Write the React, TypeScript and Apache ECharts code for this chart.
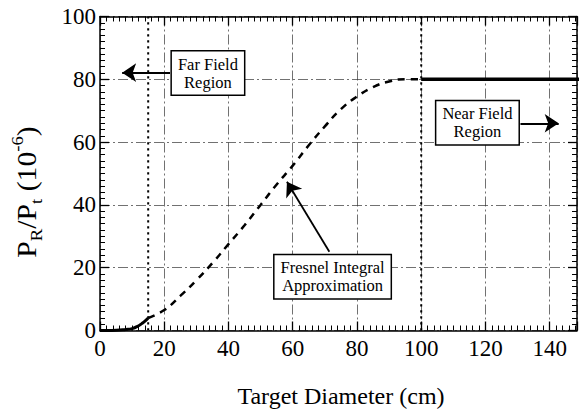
import React, { useEffect, useRef } from "react";
import * as echarts from "echarts";

const FONT = "Liberation Serif";

// Far-field computed curve (solid)
const farX = [0, 3, 5, 8, 10, 12, 13, 14, 15];
const farY = [0, 0.02, 0.05, 0.3, 0.6, 1.5, 2.2, 3.0, 4.0];

// Fresnel integral approximation (dashed)
const fresnelX = [15, 20, 25, 30, 35, 40, 45, 50, 55, 60, 65, 70, 75, 80, 85, 90, 95, 100];
const fresnelY = [4, 6.5, 11, 16, 21.5, 27.5, 33.5, 40, 46.5, 52.5, 59, 65, 70.5, 74.5, 77.5, 79.3, 80, 80];

// Near-field constant (thick solid)
const nearX = [100, 150];
const nearY = [80, 80];

// Region boundaries (dotted verticals)
const boundaryX = [15, 100];
const boundaryY = [0, 100];

const xTicks = [0, 20, 40, 60, 80, 100, 120, 140];
const yTicks = [0, 20, 40, 60, 80, 100];
const X_MAX = 148.5;

// Annotation anchors in data coordinates
const farBox = { text: "Far Field\nRegion", x: 33.6, y: 82 };
const nearBox = { text: "Near Field\nRegion", x: 117.5, y: 66.2 };
const fresnelBox = { text: "Fresnel Integral\nApproximation", x: 72.4, y: 17.1 };
const arrows = [
  [[21.8, 82.1], [6.9, 82.1]],
  [[130.9, 66], [142.8, 66]],
  [[71.4, 25.1], [58.2, 47.4]],
];

const zip = (xs: number[], ys: number[]) => xs.map((x, i) => [x, ys[i]]);

function makeAxis(kind: "x" | "y", position: string, primary: boolean): any {
  return {
    type: "value",
    position,
    min: 0,
    max: kind === "x" ? X_MAX : 100,
    interval: 20,
    axisLine: { show: true, onZero: false, lineStyle: { color: "#000", width: 1.5 } },
    axisTick: { show: true, inside: true, length: 9, lineStyle: { color: "#000", width: 1.3 } },
    minorTick: { show: true, splitNumber: 10, length: 5, lineStyle: { color: "#000", width: 1 } },
    splitLine: primary
      ? { show: true, lineStyle: { color: "#333", width: 0.7, type: [10, 3, 2, 3] } }
      : { show: false },
    axisLabel: primary
      ? {
          show: true,
          fontFamily: FONT,
          fontSize: 23,
          color: "#000",
          margin: kind === "x" ? 6 : 4,
          showMaxLabel: kind === "y",
          formatter: (v: number) => ((kind === "x" ? xTicks : yTicks).includes(v) ? String(v) : ""),
        }
      : { show: false },
  };
}

export default function App() {
  const ref = useRef<HTMLDivElement>(null);
  useEffect(() => {
    if (!ref.current) return;
    document.body.style.margin = "0";
    const chart = echarts.init(ref.current, null, { renderer: "svg" });
    const option: any = {
      animation: false,
      textStyle: { fontFamily: FONT },
      grid: { left: 100, right: 2, top: 16.5, bottom: 80.5 },
      xAxis: [makeAxis("x", "bottom", true), makeAxis("x", "top", false)],
      yAxis: [makeAxis("y", "left", true), makeAxis("y", "right", false)],
      series: [
        {
          type: "line", data: zip([boundaryX[0], boundaryX[0]], boundaryY),
          showSymbol: false, lineStyle: { color: "#000", width: 2, type: [2.2, 3.8] },
        },
        {
          type: "line", data: zip([boundaryX[1], boundaryX[1]], boundaryY),
          showSymbol: false, lineStyle: { color: "#000", width: 2, type: [2.2, 3.8] },
        },
        {
          type: "line", data: zip(farX, farY), smooth: true, showSymbol: false,
          lineStyle: { color: "#000", width: 3 },
        },
        {
          type: "line", data: zip(fresnelX, fresnelY), smooth: true, showSymbol: false,
          lineStyle: { color: "#000", width: 2.5, type: [7, 6] },
        },
        {
          type: "line", data: zip(nearX, nearY), showSymbol: false,
          lineStyle: { color: "#000", width: 3.5 },
        },
        {
          type: "lines", coordinateSystem: "cartesian2d", xAxisIndex: 0, yAxisIndex: 0,
          symbol: ["none", "arrow"], symbolSize: [8, 14],
          lineStyle: { color: "#000", width: 1.8, opacity: 1 },
          data: arrows.map((c) => ({ coords: c })),
          z: 5,
        },
      ],
    };
    chart.setOption(option);
    const px = (x: number, y: number) =>
      chart.convertToPixel({ xAxisIndex: 0, yAxisIndex: 0 } as any, [x, y]) as number[];
    const box = (b: { text: string; x: number; y: number }) => {
      const p = px(b.x, b.y);
      return {
        type: "text", x: p[0], y: p[1], z: 10,
        style: {
          text: b.text, fontFamily: FONT, fontSize: 16.5, fill: "#000", align: "center", verticalAlign: "middle",
          lineHeight: 18, backgroundColor: "#fff", borderColor: "#000", borderWidth: 1.5, padding: [4, 6, 3, 6],
        },
      };
    };
    chart.setOption({
      graphic: [
        box(farBox), box(nearBox), box(fresnelBox),
        {
          type: "text", x: 27, y: 192, rotation: Math.PI / 2, scaleX: 1.1,
          style: {
            text: "{m|P}{s|R}{m|/P}{s|t}{m| (10}{u|-6}{m|)}",
            align: "center", verticalAlign: "middle",
            rich: {
              m: { fontFamily: FONT, fontSize: 27, lineHeight: 36, verticalAlign: "middle", fill: "#000" },
              s: { fontFamily: FONT, fontSize: 17, lineHeight: 17, verticalAlign: "bottom", fill: "#000" },
              u: { fontFamily: FONT, fontSize: 17, lineHeight: 17, verticalAlign: "top", fill: "#000" },
            },
          },
        },
        {
          type: "text", x: 341, y: 396,
          style: { text: "Target Diameter (cm)", fontFamily: FONT, fontSize: 24, fill: "#000", align: "center", verticalAlign: "middle" },
        },
      ],
    });
    return () => chart.dispose();
  }, []);
  return <div ref={ref} style={{ width: 579, height: 411 }} />;
}
